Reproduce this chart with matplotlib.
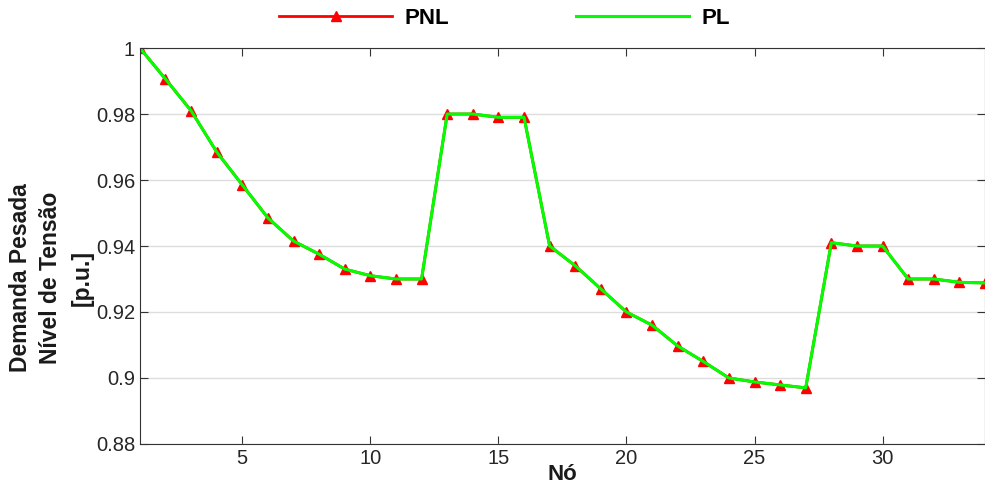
import matplotlib.pyplot as plt
import numpy as np

plt.rcParams['font.family'] = ['Liberation Sans', 'DejaVu Sans']

# nós e tensões (p.u.)
no = np.arange(1, 35)
pnl = [1.0, 0.9906, 0.981, 0.9685, 0.9585, 0.9485, 0.9415, 0.9375, 0.933, 0.931,
       0.930, 0.930, 0.980, 0.980, 0.979, 0.979, 0.940, 0.934, 0.927, 0.920,
       0.916, 0.9097, 0.905, 0.900, 0.8988, 0.8979, 0.897, 0.941, 0.940, 0.940,
       0.930, 0.930, 0.929, 0.9288]
pl = list(pnl)

xticks = [5, 10, 15, 20, 25, 30]
yticks = [0.88, 0.9, 0.92, 0.94, 0.96, 0.98, 1.0]
yticklabels = ['0.88', '0.9', '0.92', '0.94', '0.96', '0.98', '1']

fig = plt.figure(figsize=(9.85, 4.92), dpi=100)
ax = fig.add_axes([0.142, 0.0976, 0.858, 0.8048])

ax.plot(no, pnl, color=(1, 0, 0), lw=2, marker='^', ms=7, mfc=(1, 0, 0),
        mec=(1, 0, 0), label='PNL')
ax.plot(no, pl, color=(0, 1, 0), lw=2.2, label='PL')

ax.set_xlim(1, 34)
ax.set_ylim(0.88, 1.0)
ax.set_xticks(xticks)
ax.set_yticks(yticks)
ax.set_yticklabels(yticklabels)
ax.tick_params(direction='in', length=6, top=True, right=True, labelsize=14.5,
               color='#333333', labelcolor='#262626')
ax.yaxis.grid(True, color='#dddddd', lw=1)
ax.set_axisbelow(True)
for s in ax.spines.values():
    s.set_color('#333333')

ax.set_xlabel('Nó', fontsize=16, fontweight='bold', labelpad=-3, color='#1a1a1a')
for xx, txt in [(0.021, 'Demanda Pesada'), (0.051, 'Nível de Tensão'), (0.083, '[p.u.]')]:
    fig.text(xx, 0.435, txt, rotation=90, fontsize=16.5, fontweight='bold',
             ha='center', va='center', color='#1a1a1a')

leg = fig.legend(loc='center', bbox_to_anchor=(0.512, 0.963), ncol=2,
                 frameon=False, numpoints=1, handlelength=5.1,
                 handletextpad=0.55, columnspacing=5.7,
                 prop={'size': 16, 'weight': 'bold'})

plt.savefig('out.png', dpi=100)
